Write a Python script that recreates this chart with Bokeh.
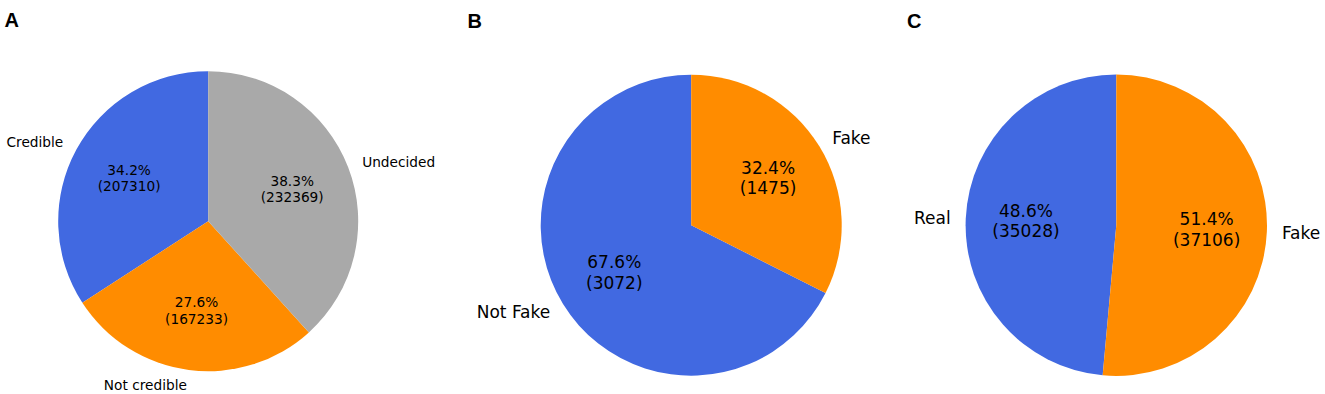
import math
from bokeh.plotting import figure
from bokeh.models import Range1d, ColumnDataSource
from bokeh.core.properties import value
from bokeh.embed import file_html
from bokeh.resources import INLINE

# ---- data ----
panel_letters = ["A", "B", "C"]

a_labels = ["Credible", "Not credible", "Undecided"]
a_counts = [207310, 167233, 232369]

b_labels = ["Not Fake", "Fake"]
b_counts = [3072, 1475]

c_labels = ["Real", "Fake"]
c_counts = [35028, 37106]

# ---- style ----
BLUE, ORANGE, GRAY = "#4169E1", "#FF8C00", "#A9A9A9"
FONT = "DejaVu Sans"

W, H = 1325, 394


def ref(x, y):
    # reference-image pixel -> data coordinates (y up)
    return x, H - y


p = figure(width=W, height=H, x_range=Range1d(0, W), y_range=Range1d(0, H),
           output_backend="svg", toolbar_location=None, min_border=0)
p.axis.visible = False
p.grid.visible = False
p.outline_line_color = None
p.background_fill_color = "white"
p.border_fill_color = "white"

panels = [
    dict(letter=panel_letters[0], labels=a_labels, counts=a_counts,
         colors=[BLUE, ORANGE, GRAY], center=ref(207.7, 220.7), r=150.0,
         fs="13.7px", lpos=ref(4, 19.5)),
    dict(letter=panel_letters[1], labels=b_labels, counts=b_counts,
         colors=[BLUE, ORANGE], center=ref(690.7, 224.7), r=150.5,
         fs="17px", lpos=ref(467, 20.5)),
    dict(letter=panel_letters[2], labels=c_labels, counts=c_counts,
         colors=[BLUE, ORANGE], center=ref(1115.8, 224.7), r=150.7,
         fs="17px", lpos=ref(906.5, 20.5)),
]

for pn in panels:
    cx, cy = pn["center"]
    r = pn["r"]
    total = float(sum(pn["counts"]))
    starts, ends, mids = [], [], []
    a = 90.0
    for c in pn["counts"]:
        span = c / total * 360.0
        starts.append(math.radians(a))
        ends.append(math.radians(a + span))
        mids.append(math.radians(a + span / 2))
        a += span
    src = ColumnDataSource(dict(
        x=[cx] * len(starts), y=[cy] * len(starts),
        start=starts, end=ends, color=pn["colors"],
    ))
    p.wedge(x="x", y="y", radius=r, start_angle="start", end_angle="end",
            direction="anticlock", fill_color="color", line_color=None,
            source=src)

    # percentage labels at 0.6 r
    pct_txt = [f"{c / total * 100:.1f}%\n({c})" for c in pn["counts"]]
    pct_src = ColumnDataSource(dict(
        x=[cx + 0.6 * r * math.cos(m) for m in mids],
        y=[cy + 0.6 * r * math.sin(m) for m in mids],
        t=pct_txt))
    p.text(x="x", y="y", text="t", source=pct_src, text_align="center",
           text_baseline="middle", text_font=value(FONT),
           text_font_size=pn["fs"], text_color="black", text_line_height=1.03)

    # category labels at 1.1 r
    for lab, m in zip(pn["labels"], mids):
        lx = cx + 1.1 * r * math.cos(m)
        ly = cy + 1.1 * r * math.sin(m)
        p.text(x=[lx], y=[ly], text=[lab],
               text_align="left" if math.cos(m) > 0 else "right",
               text_baseline="middle", text_font=value(FONT),
               text_font_size=pn["fs"], text_color="black")

    lx, ly = pn["lpos"]
    p.text(x=[lx], y=[ly], text=[pn["letter"]], text_align="left",
           text_baseline="alphabetic", text_font=value("Liberation Sans"),
           text_font_style="bold", text_font_size="20px", text_color="black")

open("out.html", "w").write(file_html(p, INLINE))
